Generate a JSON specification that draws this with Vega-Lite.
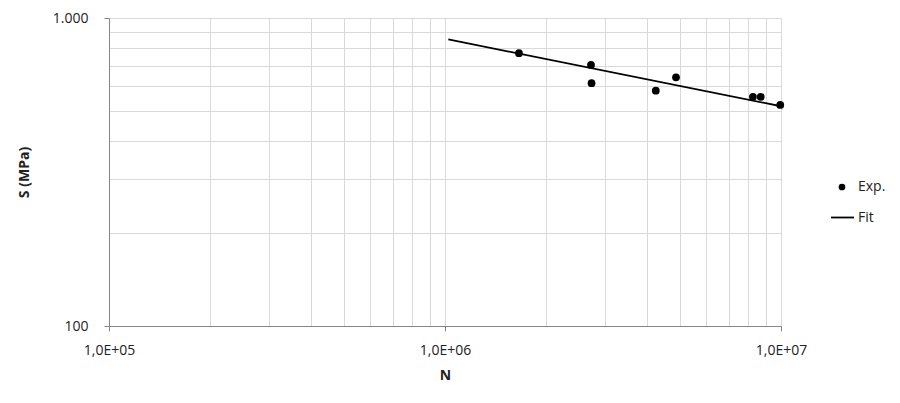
{
  "$schema": "https://vega.github.io/schema/vega-lite/v6.json",
  "autosize": {"type": "none"},
  "width": 672,
  "height": 308,
  "padding": {"left": 109, "top": 18, "right": 119, "bottom": 77},
  "background": "white",
  "config": {
    "view": {"stroke": null},
    "font": "Open Sans",
    "axis": {
      "labelFont": "Open Sans",
      "titleFont": "Open Sans",
      "labelFontSize": 14,
      "titleFontSize": 14,
      "labelColor": "#222222",
      "titleColor": "#222222",
      "gridColor": "#d9d9d9",
      "gridWidth": 1,
      "domainColor": "#868686",
      "tickColor": "#868686",
      "tickSize": 5,
      "labelOverlap": false,
      "labelFlush": false
    },
    "legend": {"labelFont": "Open Sans", "labelFontSize": 14, "labelColor": "#222222"}
  },
  "datasets": {
    "exp": [
      {"N": 1660000, "S": 769, "series": "Exp."},
      {"N": 2720000, "S": 704, "series": "Exp."},
      {"N": 2730000, "S": 614, "series": "Exp."},
      {"N": 4240000, "S": 581, "series": "Exp."},
      {"N": 4870000, "S": 642, "series": "Exp."},
      {"N": 8250000, "S": 555, "series": "Exp."},
      {"N": 8700000, "S": 555, "series": "Exp."},
      {"N": 9950000, "S": 522, "series": "Exp."}
    ],
    "fit": [
      {"N": 1023000, "S": 852, "series": "Fit"},
      {"N": 10000000, "S": 517, "series": "Fit"}
    ]
  },
  "resolve": {"scale": {"color": "independent"}},
  "layer": [
    {
      "data": {"name": "fit"},
      "mark": {"type": "line", "strokeWidth": 1.8, "clip": false},
      "encoding": {
        "x": {
          "field": "N", "type": "quantitative",
          "scale": {"type": "log", "domain": [100000, 10000000], "nice": false},
          "title": "N",
          "axis": {
            "values": [100000, 200000, 300000, 400000, 500000, 600000, 700000, 800000, 900000, 1000000, 2000000, 3000000, 4000000, 5000000, 6000000, 7000000, 8000000, 9000000, 10000000],
            "labelExpr": "abs(log(datum.value)/LN10 - round(log(datum.value)/LN10)) < 0.000001 ? '1,0E+0' + format(round(log(datum.value)/LN10), 'd') : ''",
            "tickOpacity": {"condition": {"test": "abs(log(datum.value)/LN10 - round(log(datum.value)/LN10)) < 0.000001", "value": 1}, "value": 0},
            "labelPadding": 12,
            "titlePadding": 11,
            "titleFontWeight": "bold"
          }
        },
        "y": {
          "field": "S", "type": "quantitative",
          "scale": {"type": "log", "domain": [100, 1000], "nice": false},
          "title": "S (MPa)",
          "axis": {
            "values": [100, 200, 300, 400, 500, 600, 700, 800, 900, 1000],
            "labelExpr": "datum.value == 1000 ? '1.000' : (datum.value == 100 ? '100' : '')",
            "tickOpacity": {"condition": {"test": "datum.value == 100 || datum.value == 1000", "value": 1}, "value": 0},
            "labelPadding": 16,
            "titlePadding": 21,
            "titleFontWeight": "bold"
          }
        },
        "color": {
          "field": "series", "type": "nominal",
          "scale": {"domain": ["Fit"], "range": ["black"]},
          "legend": {
            "title": null,
            "orient": "none",
            "legendX": 721,
            "legendY": 187,
            "padding": 0,
            "labelOffset": 3,
            "symbolType": "stroke",
            "symbolSize": 529,
            "symbolStrokeWidth": 1.8
          }
        }
      }
    },
    {
      "data": {"name": "exp"},
      "mark": {"type": "point", "filled": true, "size": 60, "opacity": 1},
      "encoding": {
        "x": {"field": "N", "type": "quantitative"},
        "y": {"field": "S", "type": "quantitative"},
        "color": {
          "field": "series", "type": "nominal",
          "scale": {"domain": ["Exp."], "range": ["black"]},
          "legend": {
            "title": null,
            "orient": "none",
            "legendX": 726,
            "legendY": 162,
            "padding": 0,
            "labelOffset": 9,
            "symbolType": "circle",
            "symbolSize": 45,
            "symbolOpacity": 1
          }
        }
      }
    }
  ]
}
